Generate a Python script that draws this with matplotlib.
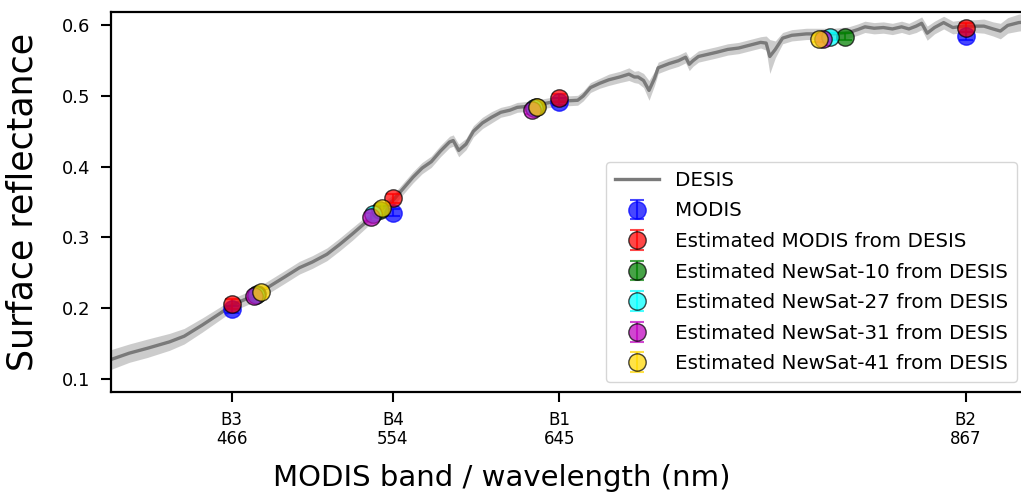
import matplotlib

matplotlib.use("Agg")
import matplotlib.pyplot as plt  # noqa: E402
import numpy as np  # noqa: E402

# DESIS spectrum (mean and spread)
desis_wl = [400, 410, 420, 432, 440, 450, 460, 466, 475, 485, 495, 503, 510, 518,
            525, 532, 540, 548, 554, 560, 565, 570, 575, 580, 585, 587, 590, 594,
            598, 603, 608, 613, 618, 622, 630, 640, 648, 655, 658, 662, 667, 672,
            678, 683, 686, 688, 691, 694, 697, 699, 705, 710, 714, 716, 718, 721,
            726, 731, 737, 743, 749, 755, 758, 760, 763, 767, 772, 780, 787, 795,
            803, 808, 812, 817, 822, 827, 832, 836, 840, 843, 846, 850, 855, 860,
            866, 872, 877, 882, 886, 890, 896, 900]
desis_refl = [0.127, 0.136, 0.143, 0.152, 0.160, 0.176, 0.193, 0.204, 0.214, 0.228,
              0.244, 0.257, 0.265, 0.276, 0.290, 0.305, 0.323, 0.340, 0.352, 0.370,
              0.385, 0.398, 0.407, 0.422, 0.435, 0.437, 0.423, 0.432, 0.450, 0.462,
              0.470, 0.477, 0.480, 0.484, 0.486, 0.491, 0.493, 0.494, 0.500, 0.512,
              0.518, 0.523, 0.527, 0.531, 0.527, 0.527, 0.522, 0.508, 0.525, 0.540,
              0.546, 0.550, 0.555, 0.545, 0.550, 0.556, 0.559, 0.562, 0.566, 0.568,
              0.572, 0.576, 0.575, 0.556, 0.566, 0.582, 0.586, 0.588, 0.588, 0.588,
              0.590, 0.594, 0.598, 0.596, 0.597, 0.595, 0.598, 0.595, 0.599, 0.603,
              0.589, 0.597, 0.604, 0.597, 0.599, 0.599, 0.599, 0.595, 0.592, 0.600,
              0.604, 0.605]
desis_std = [0.014, 0.013, 0.013, 0.012, 0.011, 0.010, 0.009, 0.009, 0.009, 0.009,
             0.009, 0.009, 0.009, 0.009, 0.009, 0.009, 0.008, 0.008, 0.008, 0.008,
             0.008, 0.008, 0.008, 0.008, 0.008, 0.008, 0.009, 0.008, 0.008, 0.008,
             0.008, 0.007, 0.007, 0.007, 0.007, 0.007, 0.007, 0.007, 0.007, 0.007,
             0.007, 0.008, 0.008, 0.009, 0.008, 0.009, 0.010, 0.014, 0.010, 0.008,
             0.008, 0.008, 0.008, 0.009, 0.008, 0.008, 0.008, 0.008, 0.008, 0.008,
             0.008, 0.008, 0.010, 0.024, 0.012, 0.008, 0.008, 0.008, 0.008, 0.008,
             0.008, 0.008, 0.008, 0.008, 0.008, 0.008, 0.008, 0.008, 0.009, 0.009,
             0.010, 0.009, 0.009, 0.009, 0.009, 0.009, 0.010, 0.010, 0.011, 0.011,
             0.012, 0.012]

# band-averaged reflectances
modis_wl = [466, 554, 645, 867]
modis_refl = [0.198, 0.335, 0.492, 0.585]
modis_err = [0.005, 0.005, 0.005, 0.005]
est_modis_refl = [0.205, 0.355, 0.497, 0.597]
est_modis_err = [0.007, 0.007, 0.006, 0.006]

newsat10_wl = [480, 547, 632, 801]
newsat10_refl = [0.220, 0.338, 0.484, 0.584]
newsat27_wl = [479, 543, 631, 793]
newsat27_refl = [0.219, 0.333, 0.483, 0.584]
newsat31_wl = [478, 542, 630, 789]
newsat31_refl = [0.217, 0.329, 0.480, 0.581]
newsat41_wl = [482, 548, 633, 787]
newsat41_refl = [0.222, 0.341, 0.485, 0.581]
newsat_err = [0.006, 0.006, 0.005, 0.005]

tick_wl = [466, 554, 645, 867]
tick_labels = ["B3\n466", "B4\n554", "B1\n645", "B2\n867"]


def main():
    fig = plt.figure(figsize=(10.21, 4.99), dpi=100)
    ax = fig.add_axes([111 / 1021, 107 / 499, (1026 - 111) / 1021, 380 / 499])

    wl = np.array(desis_wl)
    r = np.array(desis_refl)
    s = np.array(desis_std)
    ax.fill_between(wl, r - s, r + s, color="#c4c4c4", alpha=0.85, lw=0)
    ax.plot(wl, r, color="#7a7a7a", lw=2.4, label="DESIS")

    kw = dict(fmt="o", ms=12.5, capsize=5, elinewidth=1.5, capthick=1.5, alpha=0.72)
    ax.errorbar(modis_wl, modis_refl, yerr=modis_err, color="blue", mec="blue",
                label="MODIS", **kw)
    ax.errorbar(modis_wl, est_modis_refl, yerr=est_modis_err, color="red", mec="black",
                label="Estimated MODIS from DESIS", **kw)
    ax.errorbar(newsat10_wl, newsat10_refl, yerr=newsat_err, color="green", mec="black",
                label="Estimated NewSat-10 from DESIS", **kw)
    ax.errorbar(newsat27_wl, newsat27_refl, yerr=newsat_err, color="cyan", mec="black",
                label="Estimated NewSat-27 from DESIS", **kw)
    ax.errorbar(newsat31_wl, newsat31_refl, yerr=newsat_err, color="m", mec="black",
                label="Estimated NewSat-31 from DESIS", **kw)
    ax.errorbar(newsat41_wl, newsat41_refl, yerr=newsat_err, color="gold", mec="black",
                label="Estimated NewSat-41 from DESIS", **kw)

    ax.set_xlim(400, 900)
    ax.set_ylim(0.081, 0.619)
    ax.set_xticks(tick_wl)
    ax.set_xticklabels(tick_labels, fontsize=12, linespacing=1.05)
    ax.set_yticks([0.1, 0.2, 0.3, 0.4, 0.5, 0.6])
    ax.tick_params(axis="y", labelsize=13, length=7, width=1.5, pad=8)
    ax.tick_params(axis="x", length=7, width=1.5, pad=7)
    for sp in ax.spines.values():
        sp.set_linewidth(1.6)

    ax.set_xlabel("MODIS band / wavelength (nm)", fontsize=21)
    ax.xaxis.set_label_coords((502 - 111) / (1026 - 111), -0.19)
    ax.set_ylabel("Surface reflectance", fontsize=25)
    ax.yaxis.set_label_coords(-0.078, 0.5)

    ax.legend(loc="lower right", bbox_to_anchor=(1017 / 1021, 117 / 499),
              bbox_transform=fig.transFigure, borderaxespad=0, fontsize=14.3,
              handlelength=2.2, labelspacing=0.58, borderpad=0.45)

    fig.savefig("out.png", dpi=100)


if __name__ == "__main__":
    main()
